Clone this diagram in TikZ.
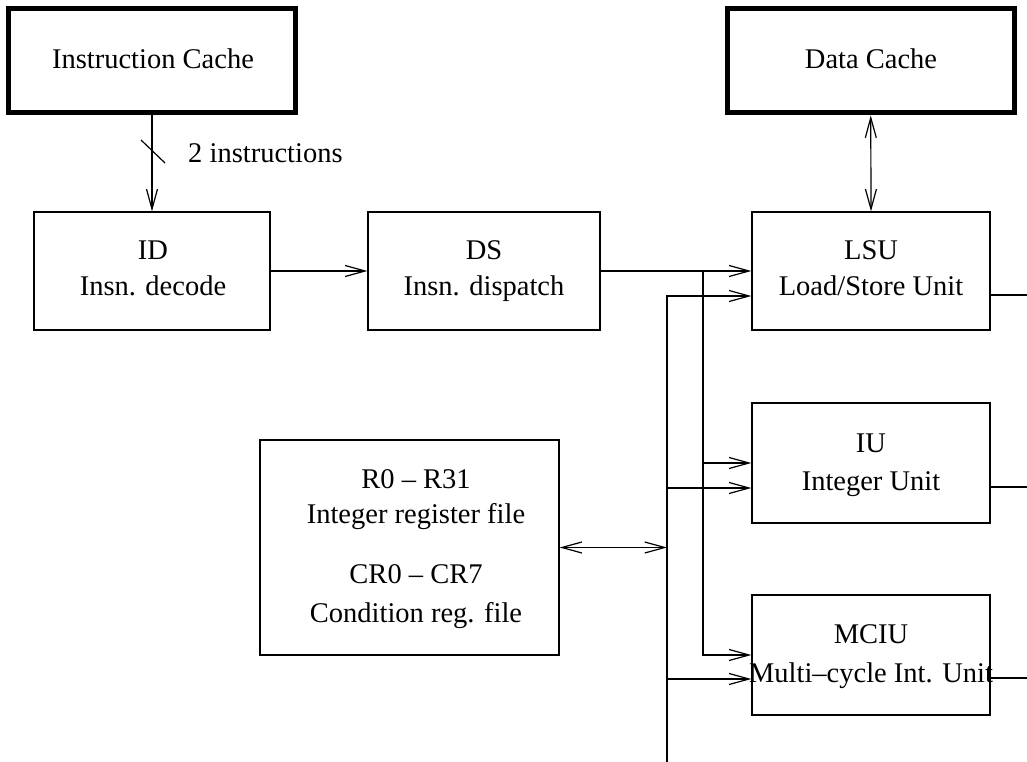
\documentclass[tikz,border=0pt]{standalone}
\usepackage{fontspec}
\setmainfont{Liberation Serif}
\usetikzlibrary{arrows.meta}
\begin{document}
\begin{tikzpicture}[x=1pt,y=-1pt,
  box/.style={draw, line width=1.3pt, inner sep=0pt, minimum width=#1},
  cache/.style={draw, line width=5pt, inner sep=0pt},
  lbl/.style={anchor=base, inner sep=0pt, font=\fontsize{28.5}{34}\selectfont},
  wire/.style={line width=1.2pt},
  buswire/.style={line width=2.2pt},
  arr/.style={-{Straight Barb[length=20pt,width=11pt,line width=1.2pt]}},
  arrboth/.style={{Straight Barb[length=20pt,width=11pt,line width=1.2pt]}-{Straight Barb[length=20pt,width=11pt,line width=1.2pt]}}
]
\useasboundingbox (0,0) rectangle (1027,762);

% boxes
\node[cache, minimum width=287pt, minimum height=104.5pt] (ic) at (152,60.75) {};
\node[cache, minimum width=286.5pt, minimum height=104.5pt] (dc) at (870.75,60.75) {};
\node[box=236pt, minimum height=118pt] (id) at (152,271) {};
\node[box=232pt, minimum height=118pt] (ds) at (484,271) {};
\node[box=238pt, minimum height=118pt] (lsu) at (871,271) {};
\node[box=238pt, minimum height=120pt] (iu) at (871,463) {};
\node[box=238pt, minimum height=120pt] (mciu) at (871,655) {};
\node[box=299pt, minimum height=215pt] (rf) at (409.5,547.5) {};

% texts
\node[lbl] (icT) at (153,69) {Instruction Cache};
\node[lbl] (dcT) at (871,69) {Data Cache};
\node[lbl] (idT1) at (153,259) {ID};
\node[lbl] (idT2) at (153,295) {Insn. decode};
\node[lbl] (dsT1) at (484,259) {DS};
\node[lbl] (dsT2) at (484,295) {Insn. dispatch};
\node[lbl] (lsuT1) at (871,259) {LSU};
\node[lbl] (lsuT2) at (871,295) {Load/Store Unit};
\node[lbl] (iuT1) at (871,452) {IU};
\node[lbl] (iuT2) at (871,490) {Integer Unit};
\node[lbl] (mciuT1) at (871,643) {MCIU};
\node[lbl] (mciuT2) at (871,682) {Multi\textendash cycle Int. Unit};
\node[lbl] (rfT1) at (416,488) {R0 \textendash\ R31};
\node[lbl] (rfT2) at (416,523) {Integer register file};
\node[lbl] (rfT3) at (416,583) {CR0 \textendash\ CR7};
\node[lbl] (rfT4) at (416,622) {Condition reg. file};
\node[lbl, anchor=base west] (instT) at (188,163) {2 instructions};

% bus coordinates
\coordinate (busA) at (703,271);
\coordinate (busB) at (667,296);
\coordinate (busBend) at (667,762);
\coordinate (edgeR) at (1027,0);

% connectors
\draw[buswire, arr] (id.north |- ic.south) -- (id.north);
\draw[wire] (141,140) -- (165,163);
\draw[buswire, arr] (id.east) -- (ds.west);
\draw[buswire, arr] (ds.east) -- (lsu.west);
\draw[buswire, arr] (busA) |- (mciu.west);
\draw[buswire, arr] (busA |- iu.west) -- (iu.west);
\draw[wire, arr] (busBend) |- ([yshift=-25pt]lsu.west);
\draw[wire, arr] (busB |- 0,488) -- ([yshift=-25pt]iu.west);
\draw[wire, arr] (busB |- 0,679) -- ([yshift=-24pt]mciu.west);
\draw[wire, arrboth] (rf.east) -- (rf.east -| busB);
\draw[wire, arrboth] (dc.south) -- (lsu.north);
\draw[wire] ([yshift=-24pt]lsu.east) -- ([yshift=-24pt]lsu.east -| edgeR);
\draw[wire] ([yshift=-24pt]iu.east) -- ([yshift=-24pt]iu.east -| edgeR);
\draw[wire] ([yshift=-23pt]mciu.east) -- ([yshift=-23pt]mciu.east -| edgeR);
\end{tikzpicture}
\end{document}
